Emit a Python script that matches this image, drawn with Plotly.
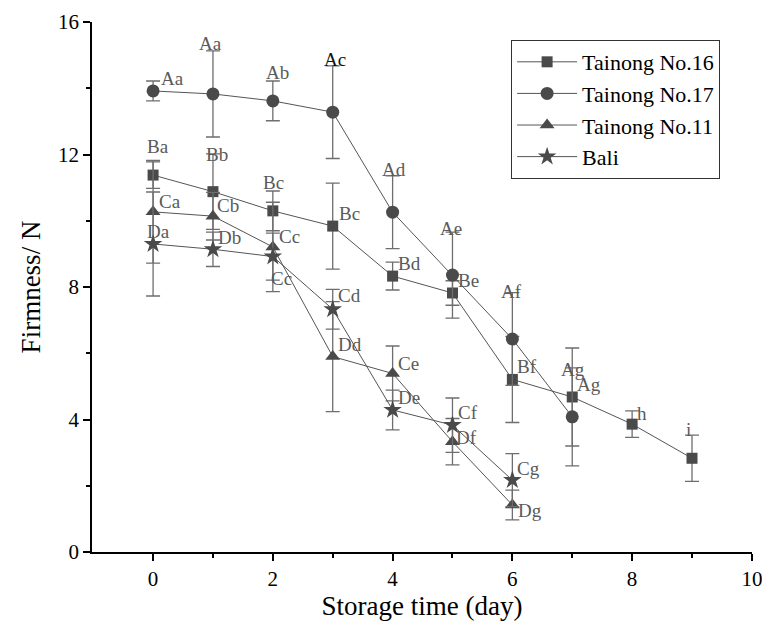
import plotly.graph_objects as go

# ---- data ----
days16 = [0, 1, 2, 3, 4, 5, 6, 7, 8, 9]
firm16 = [11.38, 10.88, 10.30, 9.84, 8.33, 7.82, 5.21, 4.68, 3.86, 2.83]
err16 = [0.40, 1.14, 0.60, 1.30, 0.42, 0.37, 1.30, 1.48, 0.40, 0.70]
lab16 = ["Ba", "Bb", "Bc", "Bc", "Bd", "Be", "Bf", "Ag", "h", "i"]

days17 = [0, 1, 2, 3, 4, 5, 6, 7]
firm17 = [13.92, 13.83, 13.62, 13.28, 10.26, 8.36, 6.43, 4.08]
err17 = [0.30, 1.30, 0.60, 1.40, 1.10, 1.30, 1.40, 1.48]
lab17 = ["Aa", "Aa", "Ab", "Ac", "Ad", "Ae", "Af", "Ag"]

days11 = [0, 1, 2, 3, 4, 5, 6]
firm11 = [10.27, 10.14, 9.21, 5.90, 5.39, 3.33, 1.42]
err11 = [1.55, 0.72, 1.35, 1.66, 0.83, 0.70, 0.45]
lab11 = ["Ca", "Cb", "Cc", "Dd", "Ce", "Df", "Dg"]

daysBali = [0, 1, 2, 3, 4, 5, 6]
firmBali = [9.30, 9.14, 8.92, 7.33, 4.29, 3.83, 2.17]
errBali = [1.57, 0.52, 0.71, 0.60, 0.60, 0.82, 0.80]
labBali = ["Da", "Db", "Cc", "Cd", "De", "Cf", "Cg"]

xticks = [0, 2, 4, 6, 8, 10]
yticks = [0, 4, 8, 12, 16]

# ---- label offsets in pixels (dx right, dy up) ----
off16 = [(5, 29), (4, 37), (1, 28), (17, 13), (17, 13), (16, 12), (15, 13), (17, 12), (10, 11), (-4, 29)]
off17 = [(19, 12), (-2, 50), (5, 28), (2, 53), (1, 43), (-1, 47), (-1, 48), (1, 47)]
off11 = [(17, 10), (15, 11), (17, 10), (17, 12), (16, 10), (14, 4), (18, -6)]
offBali = [(5, 12), (17, 12), (9, -22), (17, 14), (16, 12), (16, 13), (16, 12)]

FONT = "Liberation Serif"
MARK = "#4a4a4a"
LINE = "#555555"
ERR = "#6e6e6e"
LAB = "#5a5a5a"

fig = go.Figure()

series = [
    ("Tainong No.16", days16, firm16, err16, "square", 11),
    ("Tainong No.17", days17, firm17, err17, "circle", 13),
    ("Tainong No.11", days11, firm11, err11, "triangle-up", 13),
    ("Bali", daysBali, firmBali, errBali, "star", 14),
]
for name, x, y, e, sym, size in series:
    fig.add_trace(go.Scatter(
        x=x, y=y, name=name, mode="lines+markers",
        line=dict(color=LINE, width=1),
        marker=dict(symbol=sym, size=size, color=MARK, line=dict(width=0)),
        error_y=dict(type="data", array=e, visible=True, color=ERR, thickness=1.3, width=7),
    ))

annos = []
for x, y, labs, offs in [(days16, firm16, lab16, off16), (days17, firm17, lab17, off17),
                         (days11, firm11, lab11, off11), (daysBali, firmBali, labBali, offBali)]:
    for xi, yi, t, (dx, dy) in zip(x, y, labs, offs):
        annos.append(dict(
            x=xi, y=yi, text=t, showarrow=False, xshift=dx, yshift=dy,
            xanchor="center", yanchor="middle",
            font=dict(family=FONT, size=19, color="#111111" if t == "Ac" and xi == 3 else LAB),
        ))

fig.update_layout(
    width=762, height=625,
    margin=dict(l=92, r=10, t=22, b=73, autoexpand=False),
    paper_bgcolor="white", plot_bgcolor="white",
    font=dict(family=FONT, color="black"),
    showlegend=True,
    legend=dict(
        x=0.635, y=0.966, xanchor="left", yanchor="top",
        bordercolor="#333333", borderwidth=1, bgcolor="white",
        font=dict(family=FONT, size=22, color="black"),
        itemwidth=60, tracegroupgap=0,
    ),
    annotations=annos,
    xaxis=dict(
        range=[-1.02, 10.002], tickvals=xticks, automargin=False,
        ticklabeloverflow="allow",
        ticks="outside", ticklen=7, tickwidth=1.5, tickcolor="black",
        minor=dict(tickvals=[1, 3, 5, 7, 9], ticks="outside", ticklen=4, tickwidth=1.5, tickcolor="black"),
        showline=True, linecolor="black", linewidth=1.5,
        showgrid=False, zeroline=False,
        tickfont=dict(family=FONT, size=21, color="black"),
        title=dict(text="Storage time (day)", font=dict(family=FONT, size=27, color="black"), standoff=4),
    ),
    yaxis=dict(
        range=[0, 16.002], tickvals=yticks, automargin=False,
        ticks="outside", ticklen=7, tickwidth=1.5, tickcolor="black",
        minor=dict(tickvals=[2, 6, 10, 14], ticks="outside", ticklen=4, tickwidth=1.5, tickcolor="black"),
        showline=True, linecolor="black", linewidth=1.5,
        showgrid=False, zeroline=False,
        tickfont=dict(family=FONT, size=21, color="black"),
        title=dict(text="Firmness/ N", font=dict(family=FONT, size=27, color="black"), standoff=10),
    ),
)

fig.write_html(
    "out.html",
    config={"displayModeBar": False},
    post_script="document.body.style.margin='0';document.body.style.overflow='hidden';",
)
